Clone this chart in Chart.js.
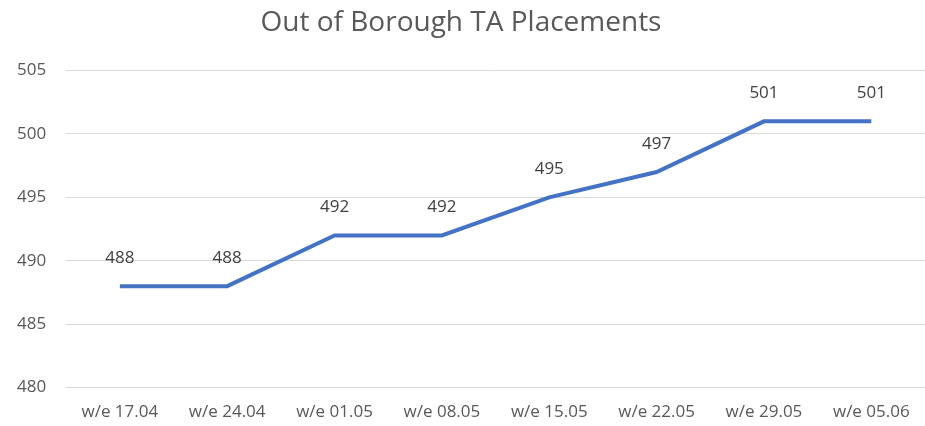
<!DOCTYPE html>
<html>
<head>
<meta charset="utf-8">
<script src="https://cdn.jsdelivr.net/npm/chart.js@4"></script>
<style>
  html, body { margin: 0; padding: 0; background: #fff; }
  #wrap { width: 925px; height: 426px; }
</style>
</head>
<body>
<div id="wrap"><canvas id="chart"></canvas></div>
<script>
const weeks = ['w/e 17.04', 'w/e 24.04', 'w/e 01.05', 'w/e 08.05', 'w/e 15.05', 'w/e 22.05', 'w/e 29.05', 'w/e 05.06'];
const placements = [488, 488, 492, 492, 495, 497, 501, 501];
const yTicks = [480, 485, 490, 495, 500, 505];

const FONT = "'Open Sans', 'Noto Sans', sans-serif";

// simple value labels above each point
const valueLabels = {
    id: 'valueLabels',
    afterDatasetsDraw(chart) {
        const ctx = chart.ctx;
        const meta = chart.getDatasetMeta(0);
        ctx.save();
        ctx.font = '17px ' + FONT;
        ctx.fillStyle = '#404040';
        ctx.textAlign = 'center';
        ctx.textBaseline = 'middle';
        meta.data.forEach((pt, i) => {
            ctx.fillText(String(placements[i]), pt.x, pt.y - 28);
        });
        ctx.restore();
    }
};

new Chart(document.getElementById('chart'), {
    type: 'line',
    data: {
        labels: weeks,
        datasets: [{
            data: placements,
            borderColor: '#4472C4',
            borderWidth: 4,
            pointRadius: 0,
            tension: 0,
            fill: false
        }]
    },
    options: {
        responsive: true,
        maintainAspectRatio: false,
        animation: false,
        layout: { padding: { left: -3, right: 0, top: 0, bottom: -10 } },
        plugins: {
            legend: { display: false },
            tooltip: { enabled: false },
            title: {
                display: true,
                text: 'Out of Borough TA Placements',
                color: '#595959',
                font: { family: FONT, size: 28, weight: 'normal' },
                padding: { top: 6, bottom: 31 }
            }
        },
        scales: {
            x: {
                offset: true,
                grid: { display: false, drawTicks: false },
                border: { display: false },
                ticks: {
                    color: '#595959',
                    font: { family: FONT, size: 17 },
                    padding: 14,
                    maxRotation: 0,
                    autoSkip: false
                }
            },
            y: {
                min: yTicks[0],
                max: yTicks[yTicks.length - 1],
                afterBuildTicks(axis) {
                    axis.ticks = yTicks.map(v => ({ value: v }));
                },
                grid: { color: '#d9d9d9', lineWidth: 1, drawTicks: false },
                border: { display: false },
                ticks: {
                    color: '#595959',
                    font: { family: FONT, size: 17 },
                    padding: 20
                }
            }
        }
    },
    plugins: [valueLabels]
});
</script>
</body>
</html>
